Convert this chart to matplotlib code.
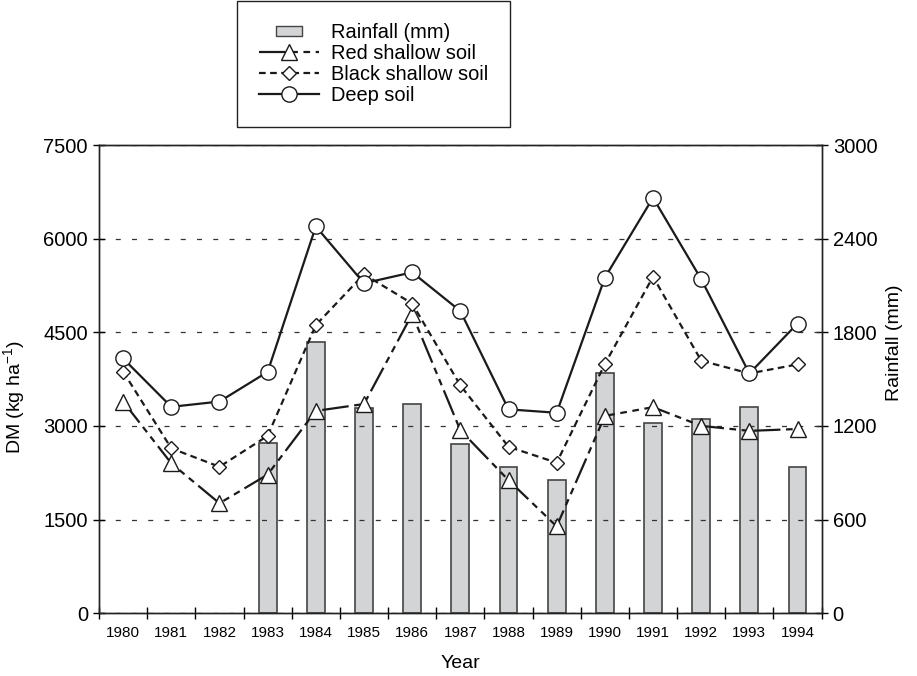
import numpy as np
import matplotlib.pyplot as plt
from matplotlib.lines import Line2D

plt.rcParams['font.family'] = ['Liberation Sans', 'DejaVu Sans']
plt.rcParams['mathtext.default'] = 'regular'

#--------------------------------------------------------------------------------------------------------------------------------
#Datos
years = ['1980', '1981', '1982', '1983', '1984', '1985', '1986', '1987',
         '1988', '1989', '1990', '1991', '1992', '1993', '1994']
rainfall = [np.nan, np.nan, np.nan, 1088, 1739, 1312, 1340, 1081,
            934, 853, 1536, 1216, 1241, 1322, 938]
red_shallow = [3390, 2400, 1760, 2220, 3240, 3350, 4790, 2930,
               2130, 1390, 3160, 3300, 3000, 2920, 2950]
black_shallow = [3870, 2640, 2345, 2840, 4615, 5430, 4960, 3650,
                 2665, 2410, 3990, 5390, 4045, 3840, 3985]
deep_soil = [4080, 3305, 3390, 3865, 6195, 5285, 5460, 4840,
             3265, 3210, 5375, 6655, 5350, 3840, 4640]

#--------------------------------------------------------------------------------------------------------------------------------
#Figura
fig = plt.figure(figsize=(9.17, 6.76), dpi=100)
ax1 = fig.add_axes([0.108, 0.093, 0.788, 0.6925])
ax2 = ax1.twinx()
ax1.set_zorder(ax2.get_zorder() + 1)
ax1.patch.set_visible(False)

x = np.arange(len(years))

#Barras de lluvia
ax2.bar(x, rainfall, width=0.37, color='#d3d4d6', edgecolor='#444444', linewidth=1.2)

#Lineas
l_red, = ax1.plot(x, red_shallow, color='#1a1a1a', lw=1.6, dashes=(12, 2.5, 3, 2.5, 3, 2.5),
                  marker='^', ms=11, mfc='white', mec='#1a1a1a', mew=1.0)
l_black, = ax1.plot(x, black_shallow, color='#1a1a1a', lw=1.6, dashes=(3, 2),
                    marker='D', ms=7.5, mfc='white', mec='#1a1a1a', mew=1.0)
l_deep, = ax1.plot(x, deep_soil, color='#1a1a1a', lw=1.6,
                   marker='o', ms=11, mfc='white', mec='#1a1a1a', mew=1.0)

#Ejes
ax1.set_xlim(-0.5, len(years) - 0.5)
ax1.set_ylim(0, 7500)
ax2.set_ylim(0, 3000)
ax1.set_yticks([0, 1500, 3000, 4500, 6000, 7500])
ax2.set_yticks([0, 600, 1200, 1800, 2400, 3000])
ax1.grid(axis='y', color='#333333', linestyle=(0, (4, 9)), linewidth=0.9)

ax1.set_xticks(x)
ax1.set_xticklabels(years, fontsize=11)
ax1.set_xticks(np.arange(len(years) + 1) - 0.5, minor=True)
ax1.tick_params(axis='x', which='major', length=0, pad=9)
ax1.tick_params(axis='x', which='minor', direction='inout', length=9, width=1)
ax1.tick_params(axis='y', direction='inout', length=9, width=1, labelsize=14.5)
ax2.tick_params(axis='y', direction='inout', length=9, width=1, labelsize=14.5)

for a in (ax1, ax2):
    for s in a.spines.values():
        s.set_color('#222222')
        s.set_linewidth(1.0)

ax1.set_xlabel('Year', fontsize=14, labelpad=11)
ax1.set_ylabel('DM (kg ha$^{-1}$)', fontsize=14)
ax1.yaxis.set_label_coords(-0.0996, 0.4615)
ax2.set_ylabel('Rainfall (mm)', fontsize=14)
ax2.yaxis.set_label_coords(1.0885, 0.577)

#Leyenda
rain_handle = Line2D([], [], linestyle='none', marker=[(-1.4, -0.5), (1.4, -0.5), (1.4, 0.5), (-1.4, 0.5), (-1.4, -0.5)],
                     ms=19, mfc='#d3d4d6', mec='#444444', mew=1.0)
leg = fig.legend([rain_handle, l_red, l_black, l_deep],
                 ['Rainfall (mm)', 'Red shallow soil', 'Black shallow soil', 'Deep soil'],
                 loc='upper left', bbox_to_anchor=(237 / 917, 1 - 1 / 676),
                 fontsize=14.4, fancybox=False, edgecolor='#222222', framealpha=1,
                 handlelength=3.0, labelspacing=0.1, borderpad=1.1, handletextpad=0.6,
                 borderaxespad=0)
leg.get_frame().set_linewidth(1.0)

fig.savefig('out.png', dpi=100)
